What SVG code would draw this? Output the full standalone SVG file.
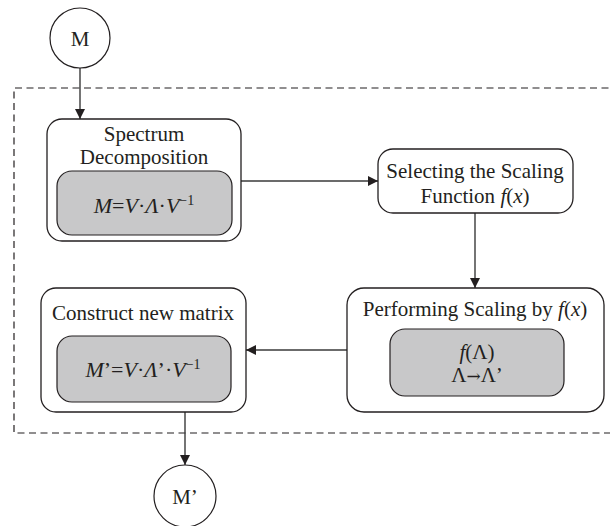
<svg xmlns="http://www.w3.org/2000/svg" width="610" height="526" viewBox="0 0 610 526">
<defs>
<style>
.box{fill:#fff;stroke:#231f20;stroke-width:1.3}
.inner{fill:#c8c8c9;stroke:#231f20;stroke-width:1.2}
.circ{fill:#fff;stroke:#231f20;stroke-width:1.2}
.t{font-family:"Liberation Serif","Times New Roman",serif;font-size:21px;fill:#231f20;text-anchor:middle}
.f{font-size:22px}
.i{font-style:italic}
.sup{font-size:14px}
.arr{font-family:"DejaVu Serif",serif;font-size:17px}
.con{fill:none;stroke:#3a3a3a;stroke-width:1.4}
.dash{fill:none;stroke:#231f20;stroke-width:1.2;stroke-dasharray:7 4.5}
</style>
<marker id="ah" viewBox="0 0 10 10" refX="10" refY="5" markerWidth="10" markerHeight="10" markerUnits="userSpaceOnUse" orient="auto">
<path d="M0,0 L10,5 L0,10 Z" fill="#231f20"/>
</marker>
</defs>
<rect width="610" height="526" fill="#fff"/>
<path class="dash" d="M620,88 H14 V433 H620"/>
<g id="connectors">
<line class="con" x1="80" y1="68" x2="80" y2="119" marker-end="url(#ah)"/>
<line class="con" x1="241" y1="181" x2="378" y2="181" marker-end="url(#ah)"/>
<line class="con" x1="475" y1="213" x2="475" y2="288" marker-end="url(#ah)"/>
<line class="con" x1="347" y1="350" x2="246" y2="350" marker-end="url(#ah)"/>
<line class="con" x1="185" y1="412" x2="185" y2="465" marker-end="url(#ah)"/>
</g>
<g id="nodeM">
<circle class="circ" cx="80" cy="38" r="30"/>
<text class="t" x="80" y="46">M</text>
</g>
<g id="spectrum">
<rect class="box" x="47" y="119" width="194" height="122" rx="15"/>
<text class="t" x="144" y="141">Spectrum</text>
<text class="t" x="144" y="164">Decomposition</text>
<rect class="inner" x="57" y="171" width="175" height="64" rx="15"/>
<text class="t f" x="144" y="213"><tspan class="i">M</tspan>=<tspan class="i">V</tspan>·<tspan class="i">Λ</tspan>·<tspan class="i">V</tspan><tspan class="sup" dy="-8">−1</tspan></text>
</g>
<g id="selecting">
<rect class="box" x="378" y="149" width="195" height="64" rx="15"/>
<text class="t" x="475" y="178">Selecting the Scaling</text>
<text class="t" x="475" y="203">Function <tspan class="i">f</tspan>(<tspan class="i">x</tspan>)</text>
</g>
<g id="performing">
<rect class="box" x="347" y="288" width="257" height="124" rx="17"/>
<text class="t" x="475" y="316">Performing Scaling by <tspan class="i">f</tspan>(<tspan class="i">x</tspan>)</text>
<rect class="inner" x="390" y="329" width="174" height="67" rx="15"/>
<text class="t" x="477" y="359"><tspan class="i">f</tspan>(Λ)</text>
<text class="t" x="477" y="382">Λ<tspan class="arr">→</tspan>Λ’</text>
</g>
<g id="construct">
<rect class="box" x="41" y="288" width="205" height="124" rx="15"/>
<text class="t" x="143" y="320">Construct new matrix</text>
<rect class="inner" x="57" y="336" width="174" height="66" rx="15"/>
<text class="t f" x="143" y="377"><tspan class="i">M</tspan>’=<tspan class="i">V</tspan>·<tspan class="i">Λ</tspan>’·<tspan class="i">V</tspan><tspan class="sup" dy="-8">−1</tspan></text>
</g>
<g id="nodeM2">
<circle class="circ" cx="185" cy="496" r="31"/>
<text class="t" x="185" y="504">M’</text>
</g>
</svg>
